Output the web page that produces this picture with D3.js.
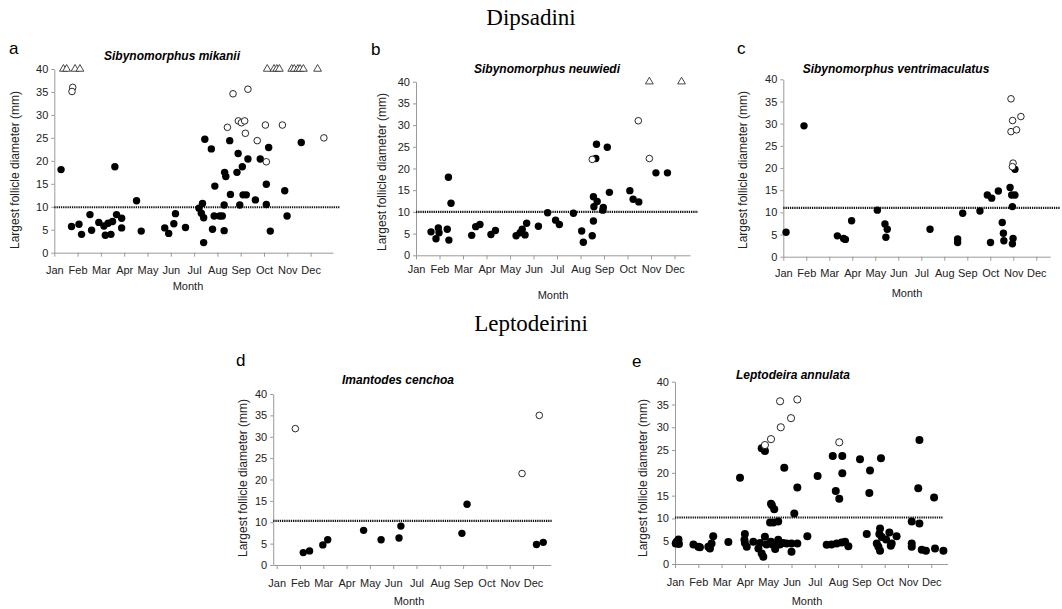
<!DOCTYPE html>
<html>
<head>
<meta charset="utf-8">
<script src="https://cdn.jsdelivr.net/npm/d3@7"></script>
<style>
  body { margin: 0; background: #fff; }
  text { font-family: "Liberation Sans", Arial, sans-serif; }
</style>
</head>
<body>
<svg id="chart" width="1062" height="609"></svg>
<script>
// ---- data ----
const months = ["Jan", "Feb", "Mar", "Apr", "May", "Jun", "Jul", "Aug", "Sep", "Oct", "Nov", "Dec"];
const yTicks = [0, 5, 10, 15, 20, 25, 30, 35, 40];
const groupTitles = ["Dipsadini", "Leptodeirini"];
const species = ["Sibynomorphus mikanii", "Sibynomorphus neuwiedi", "Sibynomorphus ventrimaculatus",
                 "Imantodes cenchoa", "Leptodeira annulata"];
const letters = ["a", "b", "c", "d", "e"];
const thresholds = [9.9, 10, 11, 10.3, 10.2];

// [month position (0 = Jan), largest follicle diameter mm]
const aFilled = [[0.29,18.1],[0.74,5.7],[1.06,6.2],[1.17,4.0],[1.53,8.3],[1.6,4.9],[1.91,6.6],[2.13,5.8],[2.19,3.8],
  [2.31,6.4],[2.43,4.0],[2.5,6.8],[2.6,18.7],[2.67,8.3],[2.89,7.5],[2.89,5.4],[3.53,11.3],[3.73,4.7],[4.74,5.4],
  [4.91,4.2],[5.13,6.3],[5.2,8.5],[5.63,5.5],[6.21,9.7],[6.36,10.7],[6.31,8.6],[6.41,7.6],[6.41,2.2],[6.46,24.7],
  [6.74,22.6],[6.79,5.1],[6.86,8.0],[6.89,14.5],[7.1,8.0],[7.21,8.0],[7.29,10.4],[7.29,4.8],[7.31,17.5],[7.36,16.6],
  [7.53,24.4],[7.56,12.7],[7.89,21.6],[7.84,17.5],[7.96,10.4],[8.07,18.7],[8.1,12.6],[8.24,12.6],[8.31,20.4],
  [8.63,11.5],[8.84,20.4],[9.1,14.9],[9.1,10.5],[9.2,22.9],[9.27,4.7],[9.89,13.5],[9.99,8.0],[10.6,24.0]];
const aOpen = [[0.79,36.0],[0.76,35.1],[7.67,34.6],[8.31,35.6],[7.43,27.3],[7.9,28.7],[8.03,28.3],[8.17,28.7],
  [8.2,26.0],[8.71,24.4],[9.06,27.8],[9.1,19.8],[9.79,27.8],[11.57,25.0]];
const aTri = [[0.39,40],[0.53,40],[0.89,40],[1.1,40],[9.14,40],[9.43,40],[9.55,40],[9.66,40],[10.19,40],
  [10.3,40],[10.45,40],[10.55,40],[10.69,40],[11.3,40]];

const bFilled = [[0.64,5.4],[0.85,3.8],[0.95,6.3],[0.98,5.2],[1.33,6.0],[1.4,3.5],[1.38,18.0],[1.49,12.0],
  [2.37,4.6],[2.54,6.6],[2.72,7.1],[3.19,4.8],[3.38,5.7],[4.26,4.5],[4.43,5.2],[4.52,6.0],[4.64,4.7],[4.71,7.4],
  [5.21,6.7],[5.6,9.8],[5.94,8.1],[6.1,7.1],[6.7,9.7],[7.05,5.6],[7.12,3.0],[7.5,4.5],[7.55,7.9],[7.57,11.2],
  [7.55,13.5],[7.65,22.3],[7.68,25.6],[7.71,12.4],[7.95,10.4],[7.97,11.0],[8.14,24.9],[8.23,14.5],[9.1,14.9],
  [9.24,12.9],[9.48,12.3],[10.21,19.0],[10.7,19.0]];
const bOpen = [[7.5,22.1],[9.46,31.0],[9.93,22.3]];
const bTri = [[9.93,40],[11.3,40]];

const cFilled = [[0.12,5.5],[0.9,29.5],[2.35,4.7],[2.62,4.1],[2.7,3.9],[2.97,8.1],[4.09,10.5],[4.42,7.4],
  [4.52,6.2],[4.46,4.4],[6.38,6.2],[7.58,4.0],[7.58,3.2],[7.8,9.8],[8.55,10.3],[8.87,13.9],[9.06,13.2],[9.01,3.2],
  [9.35,14.8],[9.52,7.7],[9.57,5.3],[9.59,3.6],[9.86,15.6],[9.93,13.9],[9.96,11.3],[10.07,13.9],[10.07,19.7],
  [9.99,4.1],[9.96,2.9]];
const cOpen = [[9.9,35.6],[9.97,30.7],[9.9,28.2],[10.14,28.6],[10.33,31.6],[9.99,21.1],[9.96,20.3]];
const cTri = [];

const dFilled = [[1.14,2.9],[1.41,3.3],[1.98,4.7],[2.19,5.9],[3.73,8.1],[4.48,5.9],[5.25,6.3],[5.33,9.1],
  [7.95,7.4],[8.17,14.2],[11.15,4.8],[11.44,5.3]];
const dOpen = [[0.8,31.9],[10.53,21.4],[11.27,35.0]];
const dTri = [];

const eFilled = [[0.07,4.9],[0.17,4.4],[0.15,5.4],[0.03,4.5],[0.79,4.3],[1.0,3.8],[1.07,3.7],[1.43,3.8],
  [1.57,4.5],[1.64,6.1],[1.5,3.4],[2.29,4.8],[2.79,18.9],[3.0,6.6],[2.98,5.3],[3.08,3.8],[3.0,4.6],[3.36,4.9],
  [3.72,25.4],[3.86,24.8],[3.58,3.4],[3.72,2.3],[3.79,1.6],[3.86,6.0],[3.93,4.3],[3.65,4.6],[4.12,4.9],[4.2,4.2],
  [4.43,5.3],[4.5,4.3],[4.64,4.6],[4.79,4.5],[5.0,2.7],[5.0,4.5],[5.25,4.5],[4.3,3.3],[4.08,9.1],[4.22,9.1],
  [4.43,9.3],[4.12,13.2],[4.16,12.9],[4.26,12.0],[4.69,21.1],[5.12,11.1],[5.25,16.8],[5.68,6.1],[6.12,19.3],
  [6.51,4.2],[6.72,4.3],[6.94,4.5],[7.15,4.7],[7.3,4.9],[7.44,3.9],[6.77,23.7],[7.18,23.7],[7.18,19.9],[6.9,16.0],
  [7.05,14.3],[7.94,23.0],[8.37,20.5],[8.34,15.6],[8.84,23.2],[8.23,6.6],[8.8,7.8],[8.77,6.6],[8.87,5.9],
  [8.66,4.5],[8.73,3.8],[8.8,2.9],[9.06,5.4],[9.2,6.9],[9.3,4.5],[9.51,6.1],[9.26,4.0],[10.16,9.3],[10.49,8.9],
  [10.49,27.2],[10.44,16.6],[11.12,14.6],[10.16,4.5],[10.16,3.8],[10.59,3.1],[10.77,2.9],[11.16,3.4],[11.52,2.9]];
const eOpen = [[3.86,26.1],[4.12,27.4],[4.54,30.0],[4.51,35.7],[4.98,32.0],[5.25,36.1],[7.05,26.7]];
const eTri = [];

const filledSets = [aFilled, bFilled, cFilled, dFilled, eFilled];
const openSets = [aOpen, bOpen, cOpen, dOpen, eOpen];
const triSets = [aTri, bTri, cTri, dTri, eTri];

// ---- layout (pixel placement of each panel) ----
const layout = [
  {x0: 54.3, step: 23.3, lo: 0, hi: 11.96, dotHi: 12.25, y0: 252.7, y40: 69, pad: 9.5,
   title: [172, 60], letter: [9, 53.5], ylab: [15, 170], month: [188, 290], r: 3.7},
  {x0: 416, step: 23.5, lo: 0, hi: 11.66, dotHi: 12.0, y0: 255.3, y40: 81.7, pad: 6,
   title: [547, 72.5], letter: [371, 55], ylab: [381.5, 172], month: [553, 299], r: 3.7},
  {x0: 783.3, step: 23, lo: 0, hi: 11.6, dotHi: 12.03, y0: 256.7, y40: 79.3, pad: 8.5,
   title: [896, 72.5], letter: [737, 53.5], ylab: [742.5, 170], month: [907, 297], r: 3.7},
  {x0: 276.7, step: 23.3, lo: -0.15, hi: 11.76, dotHi: 11.8, y0: 565, y40: 394, pad: 10,
   title: [398, 383.5], letter: [236, 366], ylab: [243, 478], month: [409, 605], r: 3.7},
  {x0: 675, step: 23.3, lo: 0, hi: 11.7, dotHi: 11.5, y0: 564, y40: 381.7, pad: 9.7,
   title: [793, 378.5], letter: [632, 367], ylab: [643, 478], month: [807, 605], r: 4}
];

const svg = d3.select("#chart");

// group headings
svg.append("text").attr("x", 531).attr("y", 25).attr("text-anchor", "middle")
  .style("font-family", "'Liberation Serif', 'Times New Roman', serif").style("font-size", "23px")
  .text(groupTitles[0]);
svg.append("text").attr("x", 531).attr("y", 331).attr("text-anchor", "middle")
  .style("font-family", "'Liberation Serif', 'Times New Roman', serif").style("font-size", "23px")
  .text(groupTitles[1]);

layout.forEach((p, i) => {
  const g = svg.append("g");
  const x = d3.scaleLinear().domain([p.lo, p.hi])
    .range([p.x0 + p.lo * p.step, p.x0 + p.hi * p.step]);
  const y = d3.scaleLinear().domain([0, 40]).range([p.y0, p.y40]);

  // axes
  const xAxis = d3.axisBottom(x).tickValues(d3.range(12)).tickFormat(k => months[k])
    .tickSize(4).tickSizeOuter(0).tickPadding(p.pad);
  const gx = g.append("g").attr("transform", "translate(0," + p.y0 + ")").call(xAxis);
  const yAxis = d3.axisLeft(y).tickValues(yTicks).tickSize(3).tickSizeOuter(0).tickPadding(3);
  const gy = g.append("g").attr("transform", "translate(" + x(p.lo) + ",0)").call(yAxis);
  [gx, gy].forEach(a => {
    a.selectAll("path, line").attr("stroke", "#9a9a9a");
    a.selectAll("text").attr("fill", "#222").style("font-size", "11px")
      .style("font-family", "'Liberation Sans', Arial, sans-serif");
  });

  // threshold line
  g.append("line")
    .attr("x1", x(p.lo)).attr("x2", x(p.dotHi))
    .attr("y1", y(thresholds[i])).attr("y2", y(thresholds[i]))
    .attr("stroke", "#111").attr("stroke-width", 2.2).attr("stroke-dasharray", "1.3,0.9");

  // filled circles
  g.selectAll(".filled").data(filledSets[i]).enter().append("circle")
    .attr("cx", d => x(d[0])).attr("cy", d => y(d[1])).attr("r", p.r)
    .attr("fill", "#000");

  // open circles
  g.selectAll(".open").data(openSets[i]).enter().append("circle")
    .attr("cx", d => x(d[0])).attr("cy", d => y(d[1])).attr("r", p.r - 0.4)
    .attr("fill", "#fff").attr("stroke", "#111").attr("stroke-width", 0.9);

  // triangles
  g.selectAll(".tri").data(triSets[i]).enter().append("path")
    .attr("d", d3.symbol(d3.symbolTriangle, 26))
    .attr("transform", d => "translate(" + x(d[0]) + "," + y(d[1]) + ")")
    .attr("fill", "#fff").attr("stroke", "#333").attr("stroke-width", 0.9);

  // texts
  g.append("text").attr("x", p.title[0]).attr("y", p.title[1]).attr("text-anchor", "middle")
    .style("font-size", "12px").style("font-weight", "bold").style("font-style", "italic")
    .text(species[i]);
  g.append("text").attr("x", p.letter[0]).attr("y", p.letter[1])
    .style("font-size", "17px").text(letters[i]);
  g.append("text").attr("transform", "translate(" + p.ylab[0] + "," + p.ylab[1] + ") rotate(-90)")
    .attr("text-anchor", "middle").attr("dy", "0.35em").attr("fill", "#222")
    .style("font-size", "12px").text("Largest follicle diameter (mm)");
  g.append("text").attr("x", p.month[0]).attr("y", p.month[1]).attr("text-anchor", "middle")
    .attr("fill", "#222").style("font-size", "11px").text("Month");
});
</script>
</body>
</html>
